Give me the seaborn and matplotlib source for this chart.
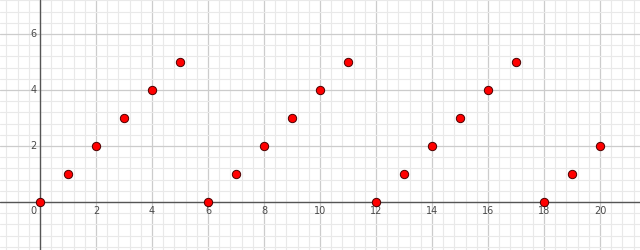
import matplotlib
matplotlib.use("Agg")
import matplotlib.pyplot as plt
from matplotlib.ticker import MultipleLocator, FixedLocator
import seaborn as sns
import pandas as pd

x_values = [0, 1, 2, 3, 4, 5, 6, 7, 8, 9, 10, 11, 12, 13, 14, 15, 16, 17, 18, 19, 20]
y_values = [0, 1, 2, 3, 4, 5, 0, 1, 2, 3, 4, 5, 0, 1, 2, 3, 4, 5, 0, 1, 2]
x_tick_labels = [2, 4, 6, 8, 10, 12, 14, 16, 18, 20]
y_tick_labels = [2, 4, 6]

df = pd.DataFrame({"x": x_values, "y": y_values})

sns.set_style("white")
plt.rcParams["font.family"] = ["DejaVu Sans"]

fig = plt.figure(figsize=(6.4, 2.5), dpi=100)
ax = fig.add_axes([0, 0, 1, 1])
ax.set_xlim(-40 / 28, 600 / 28)
ax.set_ylim(-48 / 28, 202 / 28)

ax.xaxis.set_minor_locator(MultipleLocator(0.4))
ax.yaxis.set_minor_locator(MultipleLocator(0.4))
ax.xaxis.set_major_locator(FixedLocator(x_tick_labels))
ax.yaxis.set_major_locator(FixedLocator(y_tick_labels))
ax.grid(which="minor", color="#e9e9e9", linewidth=0.8, zorder=0)
ax.grid(which="major", color="#cccccc", linewidth=0.9, zorder=0)
ax.set_axisbelow(True)

for s in ["top", "right", "left", "bottom"]:
    ax.spines[s].set_visible(False)

ax.axhline(0, color="#555555", linewidth=1.0, zorder=1)
ax.axvline(0, color="#555555", linewidth=1.0, zorder=1)

sns.scatterplot(data=df, x="x", y="y", ax=ax, s=36, color="#ff0000",
                edgecolor="#4a0000", linewidth=0.7, zorder=5, legend=False)

ax.set_xlabel("")
ax.set_ylabel("")
ax.set_xticklabels([])
ax.set_yticklabels([])
ax.tick_params(which="both", length=0)

lab_kw = dict(fontsize=7, color="#4a4a4a")
for v in x_tick_labels:
    ax.text(v, -0.16, str(v), ha="center", va="top", **lab_kw)
for v in y_tick_labels:
    ax.text(-0.13, v, str(v), ha="right", va="center", **lab_kw)
ax.text(-0.13, -0.16, "0", ha="right", va="top", **lab_kw)

fig.savefig("out.png", dpi=100)
